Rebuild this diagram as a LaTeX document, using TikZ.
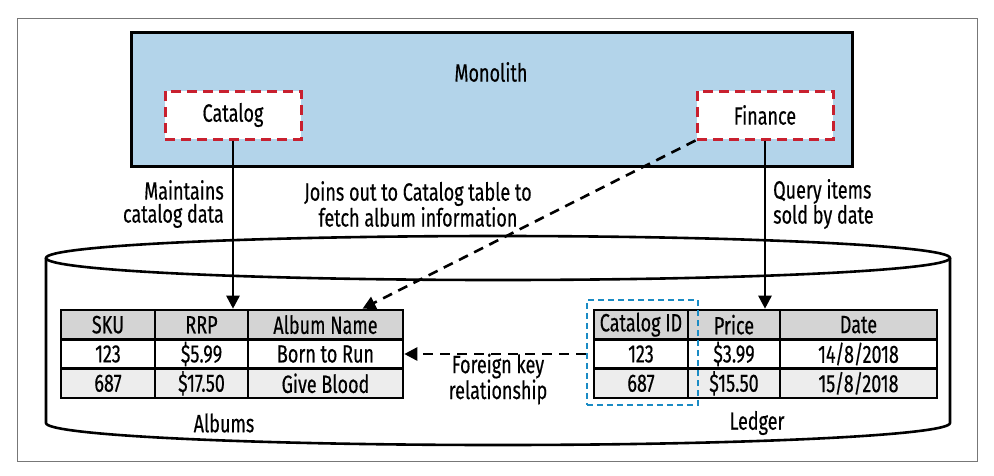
\documentclass[tikz,border=0pt]{standalone}
\usepackage{fontspec}
\setmainfont[FakeStretch=0.72,FakeBold=0.4]{Fira Sans}
\usetikzlibrary{arrows.meta,calc}
\definecolor{monoblue}{HTML}{B3D4EA}
\definecolor{svcred}{HTML}{C8202F}
\definecolor{keyblue}{HTML}{1A8BC4}
\definecolor{headgray}{HTML}{D4D4D4}
\definecolor{rowgray}{HTML}{EDEDED}
\definecolor{framegray}{HTML}{777777}
\begin{document}
\begin{tikzpicture}[x=1pt,y=-1pt,
  txt/.style={font=\fontsize{25}{23}\selectfont, inner sep=0pt},
  svcbox/.style={draw=svcred, line width=3pt, dash pattern=on 10pt off 6pt, fill=white,
     minimum width=136pt, minimum height=48pt, inner sep=0pt, font=\fontsize{25}{23}\selectfont},
  cell/.style={draw, line width=2.6pt, minimum height=29.33pt, inner sep=0pt, font=\fontsize{25}{23}\selectfont},
  hcell/.style={cell, fill=headgray},
  wcell/.style={cell, fill=white},
  gcell/.style={cell, fill=rowgray},
  link/.style={line width=2.6pt, -{Triangle[length=13pt,width=13pt]}},
  dlink/.style={link, dash pattern=on 10pt off 7pt}
]
\useasboundingbox (0,0) rectangle (994,475);
\draw[framegray, line width=1pt] (17,18) rectangle (977,461);

% monolith
\node (mono) [draw, line width=3pt, fill=monoblue, minimum width=721pt, minimum height=134pt, inner sep=0pt] at (491.5,99) {};
\node (monolbl) [txt] at (491,72) {Monolith};
\node (catalog) [svcbox] at (233,115) {Catalog};
\node (finance) [svcbox] at (765,115) {Finance};

% cylinder
\draw[line width=2.6pt, fill=white] (46,258) -- (46,423) arc[start angle=180, end angle=0, x radius=452, y radius=22] -- (950,258);
\draw[line width=2.6pt] (498,258) ellipse [x radius=452, y radius=22];

% Albums table
\node (sku)  [hcell, minimum width=94pt]  at (108,324.67) {SKU};
\node (rrp)  [hcell, minimum width=93pt]  at (201.5,324.67) {RRP};
\node (an)   [hcell, minimum width=155pt] at (325.5,324.67) {Album Name};
\node (s1)   [wcell, minimum width=94pt]  at (108,354) {123};
\node (r1)   [wcell, minimum width=93pt]  at (201.5,354) {\$5.99};
\node (a1)   [wcell, minimum width=155pt] at (325.5,354) {Born to Run};
\node (s2)   [gcell, minimum width=94pt]  at (108,383.33) {687};
\node (r2)   [gcell, minimum width=93pt]  at (201.5,383.33) {\$17.50};
\node (a2)   [gcell, minimum width=155pt] at (325.5,383.33) {Give Blood};
\node (albums) [txt] at (224,423) {Albums};

% Ledger table
\node (cid)  [hcell, minimum width=94pt]  at (641,324.67) {Catalog ID};
\node (pr)   [hcell, minimum width=92pt]  at (734,324.67) {Price};
\node (dt)   [hcell, minimum width=157pt] at (858.5,324.67) {Date};
\node (c1)   [wcell, minimum width=94pt]  at (641,354) {123};
\node (p1)   [wcell, minimum width=92pt]  at (734,354) {\$3.99};
\node (d1)   [wcell, minimum width=157pt] at (858.5,354) {14/8/2018};
\node (c2)   [gcell, minimum width=94pt]  at (641,383.33) {687};
\node (p2)   [gcell, minimum width=92pt]  at (734,383.33) {\$15.50};
\node (d2)   [gcell, minimum width=157pt] at (858.5,383.33) {15/8/2018};
\node (ledger) [txt] at (757,423) {Ledger};

% foreign key box
\node (fkbox) [draw=keyblue, line width=2.6pt, dash pattern=on 6pt off 4pt, minimum width=111pt, minimum height=105pt, inner sep=0pt] at (642.5,352.5) {};

% labels
\node (lblmaint) [txt, align=right, anchor=east] at (224,204) {Maintains\\catalog data};
\node (lbljoin) [txt, align=center] at (418,204) {Joins out to Catalog table to\\fetch album information};
\node (lblquery) [txt, align=left, anchor=west] at (773,204) {Query items\\sold by date};
\node (lblfk) [txt, align=center] at (498,379) {Foreign key\\relationship};

% connectors
\draw[link] (catalog.south) -- (catalog.south |- rrp.north);
\draw[link] (finance.south) -- (finance.south |- pr.north);
\draw[dlink] (finance.south west) -- ([xshift=37pt]an.north);
\draw[dlink] (fkbox.west |- a1.east) -- (a1.east);
\end{tikzpicture}
\end{document}
